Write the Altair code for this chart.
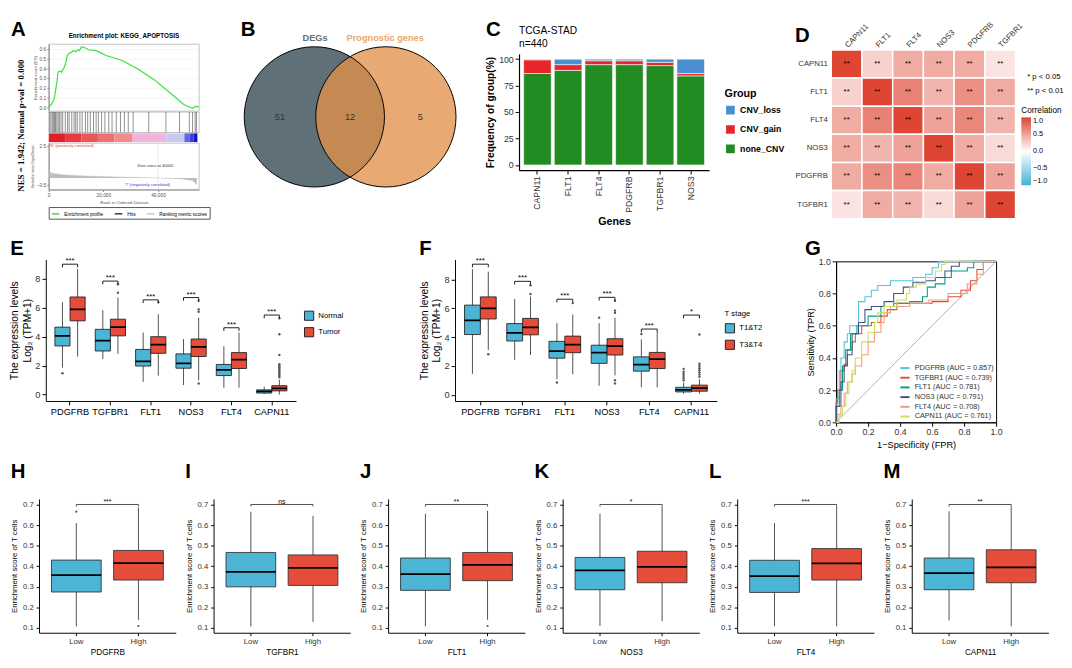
import altair as alt
import pandas as pd

FONT = "Liberation Sans"
SERIF = "Liberation Serif"
BLUE = "#4cb5d5"
RED = "#e64c3a"

# ================= data =================
# A : GSEA KEGG_APOPTOSIS
gsea_title = "Enrichment plot: KEGG_APOPTOSIS"
gsea_stats = "NES = 1.942; Normal p-val = 0.000"
es_rank = [0, 1000, 2000, 3000, 3400, 4000, 4600, 5500, 6100, 6700, 7200, 8000, 9000,
           10000, 10600, 11200, 12000, 13300, 14500, 17400, 21000, 26900, 32800, 38700,
           44700, 49400, 52700, 53900, 55000]
es_score = [0.0, 0.03, 0.08, 0.26, 0.36, 0.37, 0.36, 0.40, 0.44, 0.52, 0.55, 0.56, 0.58,
            0.57, 0.59, 0.58, 0.62, 0.61, 0.59, 0.58, 0.53, 0.48, 0.39, 0.28,
            0.14, 0.027, -0.013, 0.01, 0.0]
hit_rank = [356, 831, 1307, 1782, 2138, 2495, 2970, 3445, 3920, 4514, 5108, 6059, 6890,
            7484, 8435, 9266, 9860, 10454, 11405, 12236, 13424, 14256, 15206, 16394,
            17345, 18176, 19364, 20552, 21978, 23166, 24710, 26255, 27680, 29106, 30888,
            36590, 42886, 47876, 51440, 52628, 53579, 54054]
metric_rank = [0, 950, 5100, 13400, 25300, 37200, 40000, 49000, 52600, 54200]
metric_value = [0.62, 0.37, 0.25, 0.15, 0.075, 0.025, 0.0, -0.075, -0.2, -0.5]
bar_start = [0, 6000, 12000, 18000, 24000, 30650, 43100, 49650, 51500, 53000]
bar_end = [6000, 12000, 18000, 24000, 30650, 43100, 49650, 51500, 53000, 54400]
bar_level = [1.0, 0.9, 0.8, 0.7, 0.6, 0.3, -0.3, -0.6, -0.8, -1.0]
gsea_legend = ["Enrichment profile", "Hits", "Ranking metric scores"]

# B : Venn
venn_sets = ["DEGs", "Prognostic genes"]
venn_counts = [51, 12, 5]

# C : CNV frequency
cnv_genes = ["CAPN11", "FLT1", "FLT4", "PDGFRB", "TGFBR1", "NOS3"]
cnv_groups = ["CNV_loss", "CNV_gain", "none_CNV"]
cnv_none = [86.4, 89.4, 94.8, 94.8, 93.9, 84.2]
cnv_gain = [13.0, 5.4, 3.7, 3.7, 3.1, 2.2]
cnv_loss = [0.6, 5.2, 1.5, 1.5, 3.0, 13.6]

# D : correlation
d_genes = ["CAPN11", "FLT1", "FLT4", "NOS3", "PDGFRB", "TGFBR1"]
corr = [[1.00, 0.25, 0.45, 0.45, 0.45, 0.15],
        [0.25, 1.00, 0.68, 0.40, 0.60, 0.45],
        [0.45, 0.68, 1.00, 0.50, 0.65, 0.40],
        [0.45, 0.40, 0.50, 1.00, 0.45, 0.20],
        [0.45, 0.60, 0.65, 0.45, 1.00, 0.50],
        [0.15, 0.45, 0.40, 0.20, 0.50, 1.00]]
p_labels = ["* p < 0.05", "** p < 0.01"]

# E : Normal vs Tumor
E_genes = ["PDGFRB", "TGFBR1", "FLT1", "NOS3", "FLT4", "CAPN11"]
E_groups = ["Normal", "Tumor"]
E_normal_min = [1.87, 2.47, 0.88, 0.66, 0.48, 0.04]
E_normal_q1 = [3.37, 3.02, 1.98, 1.83, 1.32, 0.11]
E_normal_med = [4.07, 3.74, 2.31, 2.16, 1.72, 0.22]
E_normal_q3 = [4.67, 4.52, 3.13, 2.82, 2.09, 0.33]
E_normal_max = [6.39, 5.84, 4.30, 3.85, 3.35, 0.55]
E_tumor_min = [2.64, 2.82, 1.32, 0.99, 0.48, 0.00]
E_tumor_q1 = [5.11, 4.07, 2.86, 2.64, 1.81, 0.26]
E_tumor_med = [5.90, 4.67, 3.46, 3.30, 2.42, 0.44]
E_tumor_q3 = [6.76, 5.22, 4.01, 3.85, 2.91, 0.62]
E_tumor_max = [8.70, 6.72, 5.57, 5.33, 4.30, 1.04]
E_out_gene = ["PDGFRB", "TGFBR1", "TGFBR1", "FLT1", "NOS3", "NOS3", "NOS3", "NOS3"] + ["CAPN11"] * 13
E_out_group = ["Normal", "Tumor", "Tumor", "Tumor", "Tumor", "Tumor", "Tumor", "Tumor"] + ["Tumor"] * 13
E_out_value = [1.48, 7.05, 7.64, 6.39, 0.77, 5.73, 5.90, 6.50,
               1.2, 1.3, 1.4, 1.5, 1.6, 1.7, 1.8, 1.9, 2.0, 2.1, 2.75, 4.18, 5.29]
E_bracket = [9.03, 7.86, 6.56, 6.72, 4.63, 5.51]
E_sig = ["***", "***", "***", "***", "***", "***"]

# F : T stage
F_groups = ["T1&T2", "T3&T4"]
F_t12_min = [1.46, 2.43, 1.08, 0.63, 0.52, 0.07]
F_t12_q1 = [4.18, 3.73, 2.54, 2.18, 1.64, 0.20]
F_t12_med = [5.17, 4.29, 3.03, 2.92, 2.09, 0.34]
F_t12_q3 = [6.22, 4.94, 3.71, 3.44, 2.63, 0.52]
F_t12_max = [8.72, 6.65, 4.97, 4.97, 3.84, 0.85]
F_t34_min = [3.10, 2.76, 1.42, 1.35, 0.52, 0.07]
F_t34_q1 = [5.26, 4.16, 2.92, 2.76, 1.82, 0.25]
F_t34_med = [6.00, 4.67, 3.48, 3.37, 2.47, 0.47]
F_t34_q3 = [6.79, 5.30, 4.07, 3.89, 2.94, 0.67]
F_t34_max = [8.54, 6.81, 5.57, 5.35, 4.34, 1.08]
F_out_gene = ["PDGFRB", "TGFBR1", "TGFBR1", "FLT1", "FLT1", "NOS3", "NOS3", "NOS3", "NOS3", "NOS3", "NOS3", "FLT4"] + ["CAPN11"] * 14
F_out_group = ["T3&T4", "T3&T4", "T3&T4", "T1&T2", "T3&T4", "T1&T2", "T3&T4", "T3&T4", "T3&T4", "T3&T4", "T3&T4", "T1&T2"] + ["T1&T2"] * 6 + ["T3&T4"] * 8
F_out_value = [2.81, 6.99, 7.60, 0.85, 6.36, 5.35, 0.79, 1.01, 5.69, 5.84, 6.52, 4.22,
               1.0, 1.15, 1.3, 1.45, 1.6, 1.8,
               1.25, 1.4, 1.55, 1.7, 1.85, 2.0, 2.15, 4.18]
F_bracket = [9.06, 7.87, 6.63, 6.76, 4.56, 5.53]
F_sig = ["***", "***", "***", "***", "***", "*"]

# G : ROC
roc_genes = ["PDGFRB", "TGFBR1", "FLT1", "NOS3", "FLT4", "CAPN11"]
roc_auc = [0.857, 0.739, 0.781, 0.791, 0.708, 0.761]
roc_colors = ["#5bc0de", "#e64b35", "#00a087", "#3c5488", "#f39b7f", "#c8e05a"]
fpr_PDGFRB = [0, 0, 0.02, 0.03, 0.05, 0.07, 0.085, 0.14, 0.18, 0.22, 0.26, 0.34, 0.48, 0.56, 0.60, 0.64, 1.0]
tpr_PDGFRB = [0, 0.15, 0.32, 0.40, 0.50, 0.55, 0.60, 0.75, 0.78, 0.82, 0.85, 0.88, 0.90, 0.92, 0.96, 1.0, 1.0]
fpr_TGFBR1 = [0, 0, 0.01, 0.03, 0.05, 0.07, 0.10, 0.12, 0.16, 0.22, 0.28, 0.32, 0.38, 0.60, 0.70, 0.78, 0.84, 0.88, 0.92, 1.0]
tpr_TGFBR1 = [0, 0.12, 0.20, 0.32, 0.36, 0.45, 0.50, 0.55, 0.60, 0.62, 0.66, 0.70, 0.74, 0.75, 0.78, 0.82, 0.88, 0.95, 1.0, 1.0]
fpr_FLT1 = [0, 0, 0.02, 0.04, 0.06, 0.09, 0.13, 0.20, 0.28, 0.36, 0.46, 0.54, 0.57, 0.62, 0.68, 0.72, 0.82, 0.86, 1.0]
tpr_FLT1 = [0, 0.10, 0.20, 0.35, 0.45, 0.55, 0.60, 0.66, 0.72, 0.74, 0.75, 0.78, 0.84, 0.86, 0.90, 0.94, 0.96, 1.0, 1.0]
fpr_NOS3 = [0, 0, 0.03, 0.05, 0.07, 0.10, 0.14, 0.18, 0.22, 0.30, 0.36, 0.42, 0.48, 0.56, 0.62, 0.68, 0.72, 0.77, 1.0]
tpr_NOS3 = [0, 0.10, 0.25, 0.35, 0.42, 0.55, 0.62, 0.70, 0.72, 0.75, 0.80, 0.84, 0.87, 0.88, 0.90, 0.94, 0.97, 1.0, 1.0]
fpr_FLT4 = [0, 0.01, 0.03, 0.05, 0.07, 0.10, 0.12, 0.16, 0.20, 0.24, 0.28, 0.30, 0.34, 0.46, 0.58, 0.70, 0.82, 0.88, 0.92, 1.0]
tpr_FLT4 = [0, 0.05, 0.10, 0.18, 0.25, 0.30, 0.35, 0.42, 0.50, 0.56, 0.62, 0.68, 0.72, 0.74, 0.76, 0.80, 0.86, 0.92, 1.0, 1.0]
fpr_CAPN11 = [0, 0.02, 0.04, 0.06, 0.08, 0.10, 0.12, 0.16, 0.20, 0.24, 0.26, 0.30, 0.38, 0.44, 0.46, 0.50, 0.56, 0.62, 0.66, 0.68, 1.0]
tpr_CAPN11 = [0, 0.04, 0.10, 0.18, 0.25, 0.32, 0.40, 0.50, 0.56, 0.62, 0.68, 0.72, 0.76, 0.80, 0.84, 0.86, 0.90, 0.94, 0.98, 1.0, 1.0]
roc_fpr = [fpr_PDGFRB, fpr_TGFBR1, fpr_FLT1, fpr_NOS3, fpr_FLT4, fpr_CAPN11]
roc_tpr = [tpr_PDGFRB, tpr_TGFBR1, tpr_FLT1, tpr_NOS3, tpr_FLT4, tpr_CAPN11]

# H-M : T cell enrichment by Low/High
tc_genes = ["PDGFRB", "TGFBR1", "FLT1", "NOS3", "FLT4", "CAPN11"]
tc_letters = ["H", "I", "J", "K", "L", "M"]
tc_sig = ["***", "ns", "**", "*", "***", "**"]
tc_low_min = [0.108, 0.108, 0.108, 0.110, 0.108, 0.137]
tc_low_q1 = [0.275, 0.300, 0.283, 0.286, 0.273, 0.286]
tc_low_med = [0.357, 0.373, 0.362, 0.380, 0.352, 0.367]
tc_low_q3 = [0.430, 0.467, 0.440, 0.443, 0.429, 0.440]
tc_low_max = [0.610, 0.665, 0.655, 0.655, 0.610, 0.667]
tc_high_min = [0.140, 0.130, 0.140, 0.133, 0.108, 0.108]
tc_high_q1 = [0.333, 0.307, 0.330, 0.320, 0.333, 0.320]
tc_high_med = [0.415, 0.392, 0.407, 0.397, 0.414, 0.395]
tc_high_q3 = [0.477, 0.455, 0.467, 0.473, 0.486, 0.480]
tc_high_max = [0.685, 0.645, 0.670, 0.690, 0.690, 0.690]
tc_out_gene = ["PDGFRB", "PDGFRB", "FLT1"]
tc_out_group = ["Low", "High", "High"]
tc_out_value = [0.665, 0.110, 0.110]
tc_bracket = 0.70


# ================= helpers =================
def resolve(c):
    return c.resolve_scale(color="independent", fill="independent", x="independent",
                           y="independent", xOffset="independent").resolve_legend(
        color="independent", fill="independent")


def hc(*charts, spacing=0):
    return resolve(alt.concat(*charts, columns=len(charts), spacing=spacing, align="none"))


def vstack(*charts, spacing=0):
    return resolve(alt.concat(*charts, columns=1, spacing=spacing, align="none"))


def spacer():
    # invisible 1x1 anchor that fixes where a group's origin lies
    return alt.Chart(pd.DataFrame({"s": [0]})).mark_point(opacity=0, size=1).encode(
        x=alt.XDatum(0, axis=None), y=alt.YDatum(0, axis=None)).properties(width=1, height=1)


def anchored(x):
    return vstack(spacer(), x, spacing=0)


def panel(ch, letter, offset=0):
    inner = resolve(alt.vconcat(ch, title=alt.Title(letter, anchor="start", fontSize=21, fontWeight="bold",
                                                    offset=offset, color="black", font=FONT)))
    return anchored(inner)


# ================= A =================
xA = alt.Scale(domain=[0, 55000], nice=False, zero=False)
TINY = dict(labelFontSize=5, titleFontSize=4.5, tickSize=2, labelPadding=1, titlePadding=2,
            domainColor="#8a8a8a", tickColor="#8a8a8a", labelColor="#555555", titleColor="#555555")
A_BOX = alt.ViewBackground(stroke="#9a9a9a", strokeWidth=0.6)
AW = 155

nes_chart = alt.Chart(pd.DataFrame({"txt": [gsea_stats]})).mark_text(
    angle=270, font=SERIF, fontSize=9.2, fontWeight="bold", color="black"
).encode(
    x=alt.XDatum(0.5, scale=alt.Scale(domain=[0, 1]), axis=None),
    y=alt.YDatum(0.5, scale=alt.Scale(domain=[0, 1]), axis=None),
    text="txt:N",
).properties(width=20, height=168,
             title=alt.Title("A", anchor="start", fontSize=21, fontWeight="bold", offset=4, font=FONT))

es_chart = alt.Chart(pd.DataFrame({"rank": es_rank, "es": es_score})).mark_line(
    color="#33e633", strokeWidth=1.2
).encode(
    x=alt.X("rank:Q", scale=xA, axis=None),
    y=alt.Y("es:Q", scale=alt.Scale(domain=[-0.04, 0.647], nice=False, zero=False),
            axis=alt.Axis(values=[0, 0.1, 0.2, 0.3, 0.4, 0.5, 0.6], format=".1f",
                          title="Enrichment score (ES)", grid=True, gridColor="#ececec",
                          gridWidth=0.5, **TINY)),
).properties(width=AW, height=69, view=A_BOX,
             title=alt.Title(gsea_title, fontSize=6.5, fontWeight="bold",
                             anchor="middle", offset=5, font=FONT))

hits_chart = alt.Chart(pd.DataFrame({"rank": hit_rank})).mark_rule(
    color="#111111", strokeWidth=0.6, opacity=0.8
).encode(x=alt.X("rank:Q", scale=xA, axis=None)).properties(width=AW, height=21, view=A_BOX)

cbar_chart = alt.Chart(pd.DataFrame({"start": bar_start, "end": bar_end, "level": bar_level})).mark_rect().encode(
    x=alt.X("start:Q", scale=xA, axis=None), x2="end:Q",
    color=alt.Color("level:Q", legend=None,
                    scale=alt.Scale(domain=[-1, -0.6, -0.3, 0.3, 0.6, 1.0], interpolate="rgb",
                                    range=["#1414c8", "#6464e6", "#c8c8f0", "#f2b4dc", "#f08c8c", "#e41e26"])),
).properties(width=AW, height=9)

TINY_M = dict(TINY)
TINY_M["titleFontSize"] = 3.0
metric_df = pd.DataFrame({"rank": metric_rank, "val": metric_value, "series": gsea_legend[2]})
xm = alt.X("rank:Q", scale=xA, axis=alt.Axis(values=[0, 10000, 20000, 30000, 40000, 50000], format=",d",
                                             title="Rank in Ordered Dataset", **TINY))
ym = alt.Y("val:Q", scale=alt.Scale(domain=[-0.9, 2.7], nice=False, zero=False),
           axis=alt.Axis(values=[-0.5, 0, 0.5, 1, 1.5, 2, 2.5], format=".1f",
                         title="Ranked list metric (Signal2Noise)", **TINY_M))
m_area = alt.Chart(metric_df).mark_area(color="#bdbdbd").encode(x=xm, y=ym)
m_line = alt.Chart(metric_df).mark_line(strokeWidth=0.5).encode(
    x=xm, y=ym,
    color=alt.Color("series:N", scale=alt.Scale(domain=gsea_legend, range=["#33e633", "#333333", "#c8c8c8"]),
                    legend=alt.Legend(title=None, orient="bottom", direction="horizontal", symbolType="stroke",
                                      symbolStrokeWidth=1.5, symbolSize=60, labelFontSize=5, strokeColor="#555555",
                                      padding=2, offset=3, columnPadding=8, labelFont=FONT)))
m_zero = alt.Chart(pd.DataFrame({"rank": [40000]})).mark_rule(color="#dddddd", strokeWidth=0.6).encode(
    x=alt.X("rank:Q", scale=xA))
notes_df = pd.DataFrame({
    "rank": [300, 39000, 36100], "val": [2.45, 0.95, -0.58],
    "txt": ["'N' (positively correlated)", "Zero cross at 40000", "'T' (negatively correlated)"],
    "kind": ["pos", "zero", "neg"]})
note_color = alt.Color("kind:N", scale=alt.Scale(domain=["pos", "zero", "neg"],
                                                 range=["#e8383d", "#333333", "#3a3adb"]), legend=None)
m_note_l = alt.Chart(notes_df).transform_filter(alt.datum.kind == "pos").mark_text(
    fontSize=4.2, font=FONT, align="left").encode(x=alt.X("rank:Q", scale=xA), y="val:Q", text="txt:N",
                                                  color=note_color)
m_note_c = alt.Chart(notes_df).transform_filter(alt.datum.kind != "pos").mark_text(
    fontSize=4.2, font=FONT, align="center").encode(x=alt.X("rank:Q", scale=xA), y="val:Q", text="txt:N",
                                                    color=note_color)
metric_chart = alt.layer(m_zero, m_area, m_line, alt.layer(m_note_l, m_note_c)).resolve_scale(
    color="independent").properties(width=AW, height=48, view=A_BOX)

gsea = resolve(alt.vconcat(es_chart, hits_chart, cbar_chart, metric_chart, spacing=1, bounds="flush"))
panelA = anchored(hc(nes_chart, gsea, spacing=0))

# ================= B =================
B_W, B_H = 222, 170
B_xdom = [-1.56, 1.51]
ppu = B_W / (B_xdom[1] - B_xdom[0])
B_ydom = [1.30 - B_H / ppu, 1.30]
c_size = (2 * ppu) ** 2
xsB = alt.Scale(domain=B_xdom, nice=False, zero=False)
ysB = alt.Scale(domain=B_ydom, nice=False, zero=False)
venn_df = pd.DataFrame({"set": venn_sets, "cx": [-0.51, 0.51], "cy": [0.0, 0.0], "lx": [-0.5, 0.5], "ly": [1.12, 1.12]})
vb = alt.Chart(venn_df).encode(x=alt.X("cx:Q", scale=xsB, axis=None), y=alt.Y("cy:Q", scale=ysB, axis=None))
v_left = vb.transform_filter(alt.datum.set == "DEGs").mark_point(shape="circle", filled=True, size=c_size,
                                                                   color="#5f7078", opacity=1)
v_right = vb.transform_filter(alt.datum.set == "Prognostic genes").mark_point(shape="circle", filled=True,
                                                                                size=c_size, color="#e2924a", opacity=0.78)
v_outline = vb.mark_point(shape="circle", filled=False, size=c_size, color="black", strokeWidth=1, opacity=1)
v_labels = alt.Chart(venn_df).mark_text(fontSize=9.5, fontWeight="bold", font=FONT).encode(
    x=alt.X("lx:Q", scale=xsB, axis=None), y=alt.Y("ly:Q", scale=ysB, axis=None), text="set:N",
    color=alt.Color("set:N", scale=alt.Scale(domain=venn_sets, range=["#5f7078", "#e8a86a"]), legend=None))
v_counts = alt.Chart(pd.DataFrame({"n": venn_counts, "nx": [-1.0, 0.0, 1.0], "ny": [0.0, 0.0, 0.0]})).mark_text(
    fontSize=9.5, color="#333333", font=FONT).encode(
    x=alt.X("nx:Q", scale=xsB, axis=None), y=alt.Y("ny:Q", scale=ysB, axis=None), text="n:Q")
venn = alt.layer(v_left, v_right, v_outline, v_labels, v_counts).properties(width=B_W, height=B_H)
panelB = panel(venn, "B", -15)

# ================= C =================
cnv_rows = []
for i, g in enumerate(cnv_genes):
    for grp, vals, rk in [("none_CNV", cnv_none, 0), ("CNV_gain", cnv_gain, 1), ("CNV_loss", cnv_loss, 2)]:
        cnv_rows.append({"gene": g, "group": grp, "freq": vals[i], "rk": rk})
cnv_chart = alt.Chart(pd.DataFrame(cnv_rows)).mark_bar(stroke="white", strokeWidth=0.6).encode(
    x=alt.X("gene:N", sort=cnv_genes, scale=alt.Scale(paddingInner=0.1, paddingOuter=0.15),
            axis=alt.Axis(title="Genes", labelAngle=270, labelFontSize=9, titleFontSize=11, titleFontWeight="bold",
                          labelColor="#333333", tickSize=4, domainWidth=1.2, titlePadding=3)),
    y=alt.Y("freq:Q", stack="zero", scale=alt.Scale(domain=[-5, 105], nice=False),
            axis=alt.Axis(values=[0, 25, 50, 75, 100], title="Frequency of group(%)", titleFontSize=10.5,
                          titleFontWeight="bold", labelFontSize=9, tickSize=4, domainWidth=1.2, titlePadding=3)),
    color=alt.Color("group:N", scale=alt.Scale(domain=cnv_groups, range=["#4a8fd0", "#e8262a", "#228b22"]),
                    legend=alt.Legend(title="Group", orient="none", legendX=212, legendY=36, symbolType="square",
                                      symbolSize=110, titleFontSize=11, labelFontSize=9, labelFontWeight="bold",
                                      titleFontWeight="bold", rowPadding=2)),
    order=alt.Order("rk:Q"),
).properties(width=196, height=120,
             title=alt.Title(["TCGA-STAD", "n=440"], anchor="start", frame="group", fontSize=10.5,
                             fontWeight="normal", offset=5, font=FONT))
panelC = panel(cnv_chart, "C", -14)

# ================= D =================
heat_rows = []
for i, r in enumerate(d_genes):
    for j, c in enumerate(d_genes):
        heat_rows.append({"r": r, "c": c, "v": corr[i][j], "stars": "**", "plab": p_labels[1]})
hdf = pd.DataFrame(heat_rows)
DW, DH = 190, 174
xD = alt.X("c:N", sort=d_genes, axis=alt.Axis(orient="top", labelAngle=315, labelAlign="left", labelBaseline="middle",
                                               title=None, domain=False, ticks=False, labelFontSize=8,
                                               labelPadding=4, labelColor="#333333"))
yD = alt.Y("r:N", sort=d_genes, axis=alt.Axis(title=None, domain=False, ticks=False, labelFontSize=8,
                                               labelPadding=4, labelColor="#333333"))
heat = alt.Chart(hdf).mark_rect(stroke="white", strokeWidth=1.5).encode(
    x=xD, y=yD,
    fill=alt.Fill("v:Q", scale=alt.Scale(domain=[-1, 0, 1], range=["#3fb4d6", "#ffffff", "#de4533"], interpolate="rgb"),
                  legend=alt.Legend(title="Correlation", orient="none", legendX=DW + 6, legendY=58, gradientLength=70,
                                    gradientThickness=10, values=[-1, -0.5, 0, 0.5, 1], format=".1f",
                                    titleFontSize=8.5, labelFontSize=7.5, titleFontWeight="normal", titlePadding=3)))
stars = alt.Chart(hdf).mark_text(fontSize=8, baseline="middle", font=FONT).encode(
    x=xD, y=yD, text="stars:N",
    color=alt.Color("plab:N", scale=alt.Scale(domain=p_labels, range=["black", "black"]),
                    legend=alt.Legend(title=None, orient="none", legendX=DW + 2, legendY=24, symbolSize=0,
                                      symbolOpacity=0, labelFontSize=8, rowPadding=6, labelOffset=2)))
heatmap = alt.layer(heat, stars).properties(width=DW, height=DH)
panelD = panel(heatmap, "D", -26)


# ================= E / F =================
def group_box(genes, groups, stats, og, ogr, ov, brk, sigs, legend_title, W, H, ydom):
    rows = []
    for gi, grp in enumerate(groups):
        s = stats[gi]
        for i, gene in enumerate(genes):
            rows.append({"gene": gene, "grp": grp, "lo": s[0][i], "q1": s[1][i], "med": s[2][i],
                         "q3": s[3][i], "hi": s[4][i]})
    df = pd.DataFrame(rows)
    X = alt.X("gene:N", sort=genes, scale=alt.Scale(paddingInner=0.25, paddingOuter=0.225),
              axis=alt.Axis(title=None, labelAngle=0, labelFontSize=9.5, labelColor="black", tickSize=4))
    XO = alt.XOffset("grp:N", sort=groups, scale=alt.Scale(paddingInner=0, paddingOuter=0))
    ysc = alt.Scale(domain=ydom, nice=False, zero=False)
    yax = alt.Axis(values=[0, 2, 4, 6, 8], title=["The expression levels", "Log\u2082 (TPM+1)"], titleFontSize=10.5,
                   labelFontSize=9.5, tickSize=4, titlePadding=3)
    base = alt.Chart(df)
    whisk = base.mark_rule(color="#222222", strokeWidth=0.8).encode(
        x=X, xOffset=XO, y=alt.Y("lo:Q", scale=ysc, axis=yax), y2="hi:Q")
    box = base.mark_bar(stroke="#222222", strokeWidth=0.9).encode(
        x=X, xOffset=XO, y=alt.Y("q1:Q", scale=ysc, axis=yax), y2="q3:Q",
        fill=alt.Fill("grp:N", scale=alt.Scale(domain=groups, range=[BLUE, RED]),
                      legend=alt.Legend(title=legend_title, orient="none", legendX=W + 8, legendY=H * 0.36,
                                        symbolType="square", symbolStrokeColor="#222222", symbolStrokeWidth=1,
                                        symbolSize=90, labelFontSize=8, titleFontSize=8, titleFontWeight="normal")))
    med = base.mark_bar(stroke="black", strokeWidth=1.8, fillOpacity=0).encode(
        x=X, xOffset=XO, y=alt.Y("med:Q", scale=ysc, axis=yax), y2="med:Q")
    outl = alt.Chart(pd.DataFrame({"gene": og, "grp": ogr, "v": ov})).mark_point(
        filled=True, size=6, color="#555555", opacity=1).encode(
        x=X, xOffset=XO, y=alt.Y("v:Q", scale=ysc, axis=yax))
    br_rows = []
    for i, gene in enumerate(genes):
        y = brk[i]
        br_rows += [{"gene": gene, "grp": groups[0], "by": y - 0.22, "o": 0},
                    {"gene": gene, "grp": groups[0], "by": y, "o": 1},
                    {"gene": gene, "grp": groups[1], "by": y, "o": 2},
                    {"gene": gene, "grp": groups[1], "by": y - 0.22, "o": 3}]
    brackets = alt.Chart(pd.DataFrame(br_rows)).mark_line(color="black", strokeWidth=0.9).encode(
        x=X, xOffset=XO, y=alt.Y("by:Q", scale=ysc, axis=yax), detail="gene:N", order="o:Q")
    sig = alt.Chart(pd.DataFrame({"gene": genes, "by": brk, "s": sigs})).mark_text(
        fontSize=8, baseline="bottom", dy=1, font=FONT).encode(
        x=X, y=alt.Y("by:Q", scale=ysc, axis=yax), text="s:N")
    return alt.layer(whisk, box, med, outl, brackets, sig).properties(width=W, height=H)


E_chart = group_box(E_genes, E_groups,
                    [[E_normal_min, E_normal_q1, E_normal_med, E_normal_q3, E_normal_max],
                     [E_tumor_min, E_tumor_q1, E_tumor_med, E_tumor_q3, E_tumor_max]],
                    E_out_gene, E_out_group, E_out_value, E_bracket, E_sig, None, 258, 146, [-0.44, 9.36])
F_chart = group_box(E_genes, F_groups,
                    [[F_t12_min, F_t12_q1, F_t12_med, F_t12_q3, F_t12_max],
                     [F_t34_min, F_t34_q1, F_t34_med, F_t34_q3, F_t34_max]],
                    F_out_gene, F_out_group, F_out_value, F_bracket, F_sig, "T stage", 270, 146, [-0.43, 9.39])
panelE = panel(E_chart, "E", -2)
panelF = panel(F_chart, "F", -2)

# ================= G =================
roc_labels = [f"{g} (AUC = {a:.3f})" for g, a in zip(roc_genes, roc_auc)]
roc_rows = []
for gi, lab in enumerate(roc_labels):
    for j, (fx, ty) in enumerate(zip(roc_fpr[gi], roc_tpr[gi])):
        roc_rows.append({"label": lab, "fpr": fx, "tpr": ty, "idx": j})
roc_df = pd.DataFrame(roc_rows)
Xg = alt.X("fpr:Q", scale=alt.Scale(domain=[0, 1], nice=False),
           axis=alt.Axis(values=[0, 0.2, 0.4, 0.6, 0.8, 1.0], format=".1f", title="1\u2212Specificity (FPR)",
                         labelFontSize=9, titleFontSize=9.5, tickSize=4, titlePadding=3))
Yg = alt.Y("tpr:Q", stack=None, scale=alt.Scale(domain=[0, 1], nice=False),
           axis=alt.Axis(values=[0, 0.2, 0.4, 0.6, 0.8, 1.0], format=".1f", title="Sensitivity (TPR)",
                         labelFontSize=9, titleFontSize=9.5, tickSize=4, titlePadding=3))
roc_leg = alt.Legend(title=None, orient="bottom-right", offset=2, symbolType="stroke", symbolStrokeWidth=2,
                     symbolOpacity=1, symbolSize=90, labelFontSize=7.5, rowPadding=0, labelColor="#333333")
Cg = alt.Color("label:N", sort=roc_labels, scale=alt.Scale(domain=roc_labels, range=roc_colors), legend=roc_leg)
g_diag = alt.Chart(pd.DataFrame({"fpr": [0, 1], "tpr": [0, 1]})).mark_line(color="#9a9a9a", strokeWidth=0.8).encode(
    x=Xg, y=Yg)
g_area = alt.Chart(roc_df).mark_area(interpolate="step-after", opacity=0.16).encode(
    x=Xg, y=Yg, color=Cg, order=alt.Order("idx:Q"))
g_line = alt.Chart(roc_df).mark_line(interpolate="step-after", strokeWidth=1.1).encode(
    x=Xg, y=Yg, color=Cg, order=alt.Order("idx:Q"))
roc_chart = alt.layer(g_area, g_diag, g_line).properties(
    width=165, height=166, view=alt.ViewBackground(stroke="black", strokeWidth=1))
panelG = panel(roc_chart, "G", -2)


# ================= H-M =================
def tcell(i):
    gene = tc_genes[i]
    df = pd.DataFrame({"grp": ["Low", "High"], "lo": [tc_low_min[i], tc_high_min[i]],
                       "q1": [tc_low_q1[i], tc_high_q1[i]], "med": [tc_low_med[i], tc_high_med[i]],
                       "q3": [tc_low_q3[i], tc_high_q3[i]], "hi": [tc_low_max[i], tc_high_max[i]]})
    X = alt.X("grp:N", sort=["Low", "High"], scale=alt.Scale(paddingInner=0.2, paddingOuter=0.2),
              axis=alt.Axis(title=gene, labelAngle=0, labelFontSize=8, titleFontSize=8.5, tickSize=3,
                            labelColor="#333333", titlePadding=2, labelPadding=2))
    ysc = alt.Scale(domain=[0.077, 0.727], nice=False, zero=False)
    yax = alt.Axis(values=[0.1, 0.2, 0.3, 0.4, 0.5, 0.6, 0.7], format=".1f", title="Enrichment score of T cells",
                   labelFontSize=8, titleFontSize=8, tickSize=3, titlePadding=4, labelPadding=3)
    base = alt.Chart(df)
    whisk = base.mark_rule(color="#222222", strokeWidth=0.8).encode(x=X, y=alt.Y("lo:Q", scale=ysc, axis=yax), y2="hi:Q")
    box = base.mark_bar(stroke="#333333", strokeWidth=0.9).encode(
        x=X, y=alt.Y("q1:Q", scale=ysc, axis=yax), y2="q3:Q",
        fill=alt.Fill("grp:N", scale=alt.Scale(domain=["Low", "High"], range=[BLUE, RED]), legend=None))
    med = base.mark_bar(stroke="black", strokeWidth=1.8, fillOpacity=0).encode(
        x=X, y=alt.Y("med:Q", scale=ysc, axis=yax), y2="med:Q")
    sel = [k for k, g in enumerate(tc_out_gene) if g == gene]
    layers = [whisk, box, med]
    if sel:
        odf = pd.DataFrame({"grp": [tc_out_group[k] for k in sel], "v": [tc_out_value[k] for k in sel]})
        layers.append(alt.Chart(odf).mark_point(filled=True, size=5, color="#555555", opacity=1).encode(
            x=X, y=alt.Y("v:Q", scale=ysc, axis=yax)))
    bdf = pd.DataFrame({"grp": ["Low", "Low", "High", "High"],
                        "by": [tc_bracket - 0.01, tc_bracket, tc_bracket, tc_bracket - 0.01], "o": [0, 1, 2, 3]})
    layers.append(alt.Chart(bdf).mark_line(color="#222222", strokeWidth=0.8).encode(
        x=X, y=alt.Y("by:Q", scale=ysc, axis=yax), order="o:Q"))
    sdf = pd.DataFrame({"s": [tc_sig[i]], "by": [tc_bracket]})
    layers.append(alt.Chart(sdf).mark_text(fontSize=7, baseline="bottom", dx=6.4, font=FONT).encode(
        x=alt.XDatum("Low", type="nominal", bandPosition=1),
        y=alt.Y("by:Q", scale=ysc, axis=yax), text="s:N"))
    ch = alt.layer(*layers).properties(width=141, height=138)
    return panel(ch, tc_letters[i], 16)


row1 = hc(spacer(), hc(panelA, hc(panelB, hc(panelC, panelD, spacing=10), spacing=28), spacing=30), spacing=0)
row2 = hc(spacer(), hc(panelE, hc(panelF, panelG, spacing=42), spacing=78), spacing=0)
row3 = hc(spacer(), hc(*[tcell(i) for i in range(6)], spacing=9), spacing=0)

chart = vstack(row1, row2, row3, spacing=10).properties(padding=0).configure(font=FONT).configure_view(
    stroke=None).configure_axis(
    grid=False, labelFont=FONT, titleFont=FONT, domainColor="black", tickColor="black",
    labelColor="#333333", titleColor="black", titleFontWeight="normal", labelFlush=False
).configure_legend(labelFont=FONT, titleFont=FONT).configure_title(font=FONT)

chart.save("out.html", embed_options={"renderer": "svg", "actions": False})
